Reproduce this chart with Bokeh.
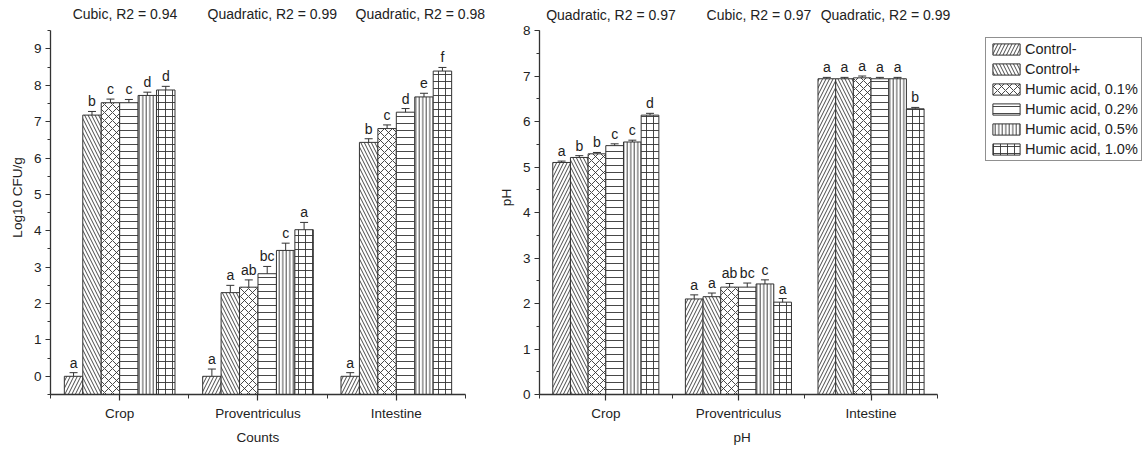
import numpy as np
from bokeh.plotting import figure
from bokeh.models import (ColumnDataSource, FixedTicker, Whisker, TeeHead, LabelSet,
                          Legend, LegendItem, Range1d, Title)
from bokeh.layouts import row
from bokeh.embed import file_html
from bokeh.resources import INLINE
from bokeh.core.properties import value

# ---------------- data ----------------
categories = ["Crop", "Proventriculus", "Intestine"]
treatments = ["Control-", "Control+", "Humic acid, 0.1%", "Humic acid, 0.2%",
              "Humic acid, 0.5%", "Humic acid, 1.0%"]

# Counts, log10 CFU/g  (Crop, Proventriculus, Intestine)
counts_control_neg = [0.00, 0.00, 0.00]
counts_control_pos = [7.18, 2.30, 6.43]
counts_ha01 = [7.52, 2.45, 6.81]
counts_ha02 = [7.52, 2.82, 7.26]
counts_ha05 = [7.72, 3.46, 7.68]
counts_ha10 = [7.87, 4.03, 8.39]

counts_err_control_neg = [0.10, 0.20, 0.10]
counts_err_control_pos = [0.10, 0.20, 0.10]
counts_err_ha01 = [0.10, 0.20, 0.10]
counts_err_ha02 = [0.09, 0.20, 0.10]
counts_err_ha05 = [0.09, 0.20, 0.10]
counts_err_ha10 = [0.10, 0.20, 0.10]

counts_let_control_neg = ["a", "a", "a"]
counts_let_control_pos = ["b", "a", "b"]
counts_let_ha01 = ["c", "ab", "c"]
counts_let_ha02 = ["c", "bc", "d"]
counts_let_ha05 = ["d", "c", "e"]
counts_let_ha10 = ["d", "a", "f"]

counts_fit = ["Cubic, R2 = 0.94", "Quadratic, R2 = 0.99", "Quadratic, R2 = 0.98"]

# pH  (Crop, Proventriculus, Intestine)
ph_control_neg = [5.10, 2.10, 6.94]
ph_control_pos = [5.21, 2.15, 6.94]
ph_ha01 = [5.29, 2.36, 6.96]
ph_ha02 = [5.47, 2.36, 6.94]
ph_ha05 = [5.55, 2.43, 6.94]
ph_ha10 = [6.14, 2.03, 6.28]

ph_err_control_neg = [0.03, 0.09, 0.03]
ph_err_control_pos = [0.04, 0.08, 0.03]
ph_err_ha01 = [0.03, 0.08, 0.04]
ph_err_ha02 = [0.04, 0.09, 0.03]
ph_err_ha05 = [0.04, 0.09, 0.03]
ph_err_ha10 = [0.04, 0.08, 0.03]

ph_let_control_neg = ["a", "a", "a"]
ph_let_control_pos = ["b", "a", "a"]
ph_let_ha01 = ["b", "ab", "a"]
ph_let_ha02 = ["c", "bc", "a"]
ph_let_ha05 = ["c", "c", "a"]
ph_let_ha10 = ["d", "a", "b"]

ph_fit = ["Quadratic, R2 = 0.97", "Cubic, R2 = 0.97", "Quadratic, R2 = 0.99"]

counts_values = [counts_control_neg, counts_control_pos, counts_ha01, counts_ha02, counts_ha05, counts_ha10]
counts_errors = [counts_err_control_neg, counts_err_control_pos, counts_err_ha01, counts_err_ha02, counts_err_ha05, counts_err_ha10]
counts_letters = [counts_let_control_neg, counts_let_control_pos, counts_let_ha01, counts_let_ha02, counts_let_ha05, counts_let_ha10]
ph_values = [ph_control_neg, ph_control_pos, ph_ha01, ph_ha02, ph_ha05, ph_ha10]
ph_errors = [ph_err_control_neg, ph_err_control_pos, ph_err_ha01, ph_err_ha02, ph_err_ha05, ph_err_ha10]
ph_letters = [ph_let_control_neg, ph_let_control_pos, ph_let_ha01, ph_let_ha02, ph_let_ha05, ph_let_ha10]

# ---------------- styles ----------------
FONT = "Liberation Sans"
INK = "#333333"
patterns = ["/", "\\", "x", "-", "|", "+"]
hscales = [7, 7, 8, 7, 3.5, 7]
GROUP = 0.8
BW = GROUP / len(treatments)


def make_panel(vals, errs, lets, fits, fit_dx, fit_y, ylabel, xlabel, xlabel_offset,
               ybot, ytop, yend, xend, width, bleft, bright, with_legend=False):
    p = figure(width=width, height=449, output_backend="svg", toolbar_location=None,
               x_range=Range1d(0.5, xend), y_range=Range1d(ybot, yend),
               min_border_left=bleft, min_border_right=bright,
               min_border_top=0, min_border_bottom=55)
    p.outline_line_color = None
    p.xgrid.visible = False
    p.ygrid.visible = False
    p.background_fill_color = "white"
    p.border_fill_color = "white"

    renderers = []
    for i, t in enumerate(treatments):
        xs = [c + 1 + (i - 2.5) * BW for c in range(len(categories))]
        src = ColumnDataSource(dict(
            x=xs, top=vals[i], bottom=[ybot] * len(xs),
            upper=[v + e for v, e in zip(vals[i], errs[i])],
            lower=[v - e for v, e in zip(vals[i], errs[i])],
            letter=lets[i]))
        r = p.vbar(x="x", top="top", bottom="bottom", width=BW, source=src,
                   fill_color="white", line_color=INK, line_width=1,
                   hatch_pattern=patterns[i], hatch_scale=hscales[i],
                   hatch_color=INK, hatch_weight=0.9)
        renderers.append(r)
        w = Whisker(source=src, base="x", upper="upper", lower="lower",
                    dimension="height", line_color=INK, line_width=1,
                    upper_head=TeeHead(size=8, line_color=INK, line_width=1),
                    lower_head=TeeHead(size=8, line_color=INK, line_width=1))
        p.add_layout(w)
        ls = LabelSet(source=src, x="x", y="upper", text="letter", y_offset=5,
                      text_align="center", text_baseline="alphabetic",
                      text_font=value(FONT), text_font_size="14px", text_color="#222")
        p.add_layout(ls)

    fit_src = ColumnDataSource(dict(
        x=[c + 1 + dx for c, dx in zip(range(len(categories)), fit_dx)],
        y=[fit_y] * len(fits), text=fits))
    p.text(x="x", y="y", text="text", source=fit_src, text_align="left",
           text_baseline="middle", text_font=value(FONT), text_font_size="14px",
           text_color="#222")

    # axes
    p.xaxis.ticker = FixedTicker(ticks=[1, 2, 3], minor_ticks=[0.5, 1.5, 2.5, 3.5])
    p.xaxis.major_label_overrides = {i + 1: c for i, c in enumerate(categories)}
    p.xaxis.bounds = (0.5, 3.5)
    p.xaxis.major_tick_out = 6
    p.xaxis.minor_tick_out = 4
    p.xaxis.major_label_standoff = 5

    yt = list(range(int(np.ceil(ybot)), int(ytop) + 1))
    ym = list(np.arange(ybot, ytop + 0.01, 0.5))
    p.yaxis.ticker = FixedTicker(ticks=yt, minor_ticks=ym)
    p.yaxis.bounds = (ybot, ytop)
    p.yaxis.axis_label = ylabel
    p.yaxis.major_tick_out = 5
    p.yaxis.minor_tick_out = 3
    p.yaxis.major_label_standoff = 4
    p.yaxis.axis_label_standoff = 6
    p.yaxis.major_label_orientation = "horizontal"

    for ax in p.axis:
        ax.axis_line_color = INK
        ax.axis_line_width = 1.3
        ax.major_tick_line_color = INK
        ax.minor_tick_line_color = INK
        ax.major_tick_line_width = 1.2
        ax.minor_tick_line_width = 1.0
        ax.major_tick_in = 0
        ax.minor_tick_in = 0
        ax.major_label_text_font = FONT
        ax.major_label_text_font_size = "13.5px"
        ax.major_label_text_color = "#222"
        ax.axis_label_text_font = FONT
        ax.axis_label_text_font_size = "13.5px"
        ax.axis_label_text_font_style = "normal"
        ax.axis_label_text_color = "#222"

    # x-axis title, placed under the middle category
    p.add_layout(Title(text=xlabel, align="left", offset=xlabel_offset,
                       vertical_align="bottom", standoff=8, text_font=FONT,
                       text_font_size="13.5px", text_font_style="normal",
                       text_color="#222"), "below")

    if with_legend:
        items = [LegendItem(label=t, renderers=[r]) for t, r in zip(treatments, renderers)]
        leg = Legend(items=items, location=(446, 233), orientation="vertical",
                     glyph_width=34, glyph_height=14, label_height=14, label_width=10,
                     spacing=4, padding=3, margin=0, label_standoff=2,
                     border_line_color="#222", border_line_width=1,
                     background_fill_color="white", background_fill_alpha=1,
                     label_text_font=FONT, label_text_font_size="14.5px",
                     label_text_color="#222")
        p.add_layout(leg)
    return p


p1 = make_panel(counts_values, counts_errors, counts_letters, counts_fit,
                [-0.34, -0.365, -0.295], 9.95, "Log10 CFU/g", "Counts", 186,
                -0.5, 9.5, 10.33, 3.717, 495, 50, 0)
p2 = make_panel(ph_values, ph_errors, ph_letters, ph_fit,
                [-0.45, -0.24, -0.38], 8.35, "pH", "pH", 194,
                0, 8, 8.66, 5.047, 647, 40, 0, with_legend=True)

layout = row(p1, p2, spacing=0)
open("out.html", "w").write(file_html(layout, INLINE))
